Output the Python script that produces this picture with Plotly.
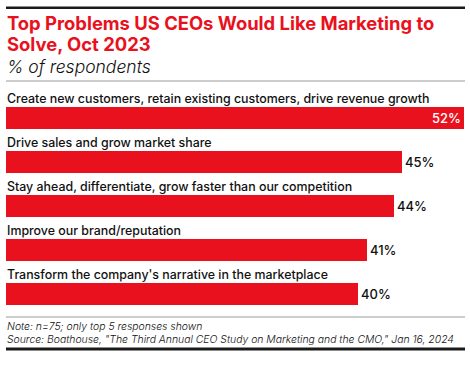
import plotly.graph_objects as go

categories = [
    "Create new customers, retain existing customers, drive revenue growth",
    "Drive sales and grow market share",
    "Stay ahead, differentiate, grow faster than our competition",
    "Improve our brand/reputation",
    "Transform the company's narrative in the marketplace",
]
values = [52, 45, 44, 41, 40]
value_labels = ["52%", "45%", "44%", "41%", "40%"]

title_line1 = "Top Problems US CEOs Would Like Marketing to"
title_line2 = "Solve, Oct 2023"
subtitle = "% of respondents"
note = "Note: n=75; only top 5 responses shown"
source = 'Source: Boathouse, "The Third Annual CEO Study on Marketing and the CMO," Jan 16, 2024'

RED = "#E8111D"
W, H = 470, 375
PLOT_L, PLOT_R, PLOT_T, PLOT_B = 6, 464, 96, 316

def py(p):
    return 1 - p / H

def px(p):
    return p / W

ypos = list(range(len(categories)))
positions = ["inside" if i == 0 else "outside" for i in ypos]
tcolors = ["white" if i == 0 else "#111111" for i in ypos]

fig = go.Figure()

# decorative rules drawn on a full-page overlay axis (pixel units)
for yy, wd, col in [(7.7, 2.5, "#1a1a1a"), (81, 1, "#9a9a9a"), (317, 1, "#9a9a9a"), (349, 3, "#1a1a1a")]:
    fig.add_trace(go.Scatter(
        x=[6, 465], y=[yy, yy], mode="lines", xaxis="x2", yaxis="y2",
        line=dict(color=col, width=wd), hoverinfo="skip", cliponaxis=False,
    ))

fig.add_trace(go.Bar(
    x=values, y=ypos, orientation="h",
    marker=dict(color=RED, line=dict(width=0)),
    width=0.48,
    text=value_labels, textposition=positions,
    insidetextanchor="end",
    textfont=dict(color=tcolors, size=13, family="Inter", weight=500),
    cliponaxis=False,
    hoverinfo="skip",
))

annotations = []
for i, c in zip(ypos, categories):
    annotations.append(dict(
        x=0, y=i, xref="x", yref="y", text=c, showarrow=False,
        xanchor="left", yanchor="middle", yshift=20, xshift=-1,
        font=dict(family="Inter", size=12.4, color="#111111", weight=500),
    ))

def txt(text, ypix, size, color="#111111", italic=False, weight=400):
    annotations.append(dict(
        x=px(5), y=py(ypix), xref="paper", yref="paper", text=text, showarrow=False,
        xanchor="left", yanchor="middle",
        font=dict(family="Inter", size=size, color=color, weight=weight,
                  style="italic" if italic else "normal"),
    ))

txt(title_line1, 23, 18.4, RED, weight=700)
txt(title_line2, 44, 18.4, RED, weight=700)
txt(subtitle, 67, 17.5, "#111111", italic=True, weight=300)
txt(note, 326, 10.4, "#111111", italic=True, weight=300)
txt(source, 339, 10.4, "#111111", italic=True, weight=300)

fig.update_layout(
    width=W, height=H,
    margin=dict(l=0, r=0, t=0, b=0, pad=0),
    paper_bgcolor="white", plot_bgcolor="rgba(0,0,0,0)",
    showlegend=False,
    xaxis=dict(range=[0, 52], visible=False, fixedrange=True,
               domain=[px(PLOT_L), px(PLOT_R)]),
    yaxis=dict(range=[4.5, -0.5], visible=False, fixedrange=True,
               domain=[py(PLOT_B), py(PLOT_T)]),
    xaxis2=dict(range=[0, W], visible=False, fixedrange=True, domain=[0, 1], anchor="y2"),
    yaxis2=dict(range=[H, 0], visible=False, fixedrange=True, domain=[0, 1], anchor="x2"),
    annotations=annotations,
    bargap=0,
)

fig.write_html("out.html", config={"displayModeBar": False},
               post_script="document.body.style.margin='0';document.body.style.padding='0';")
